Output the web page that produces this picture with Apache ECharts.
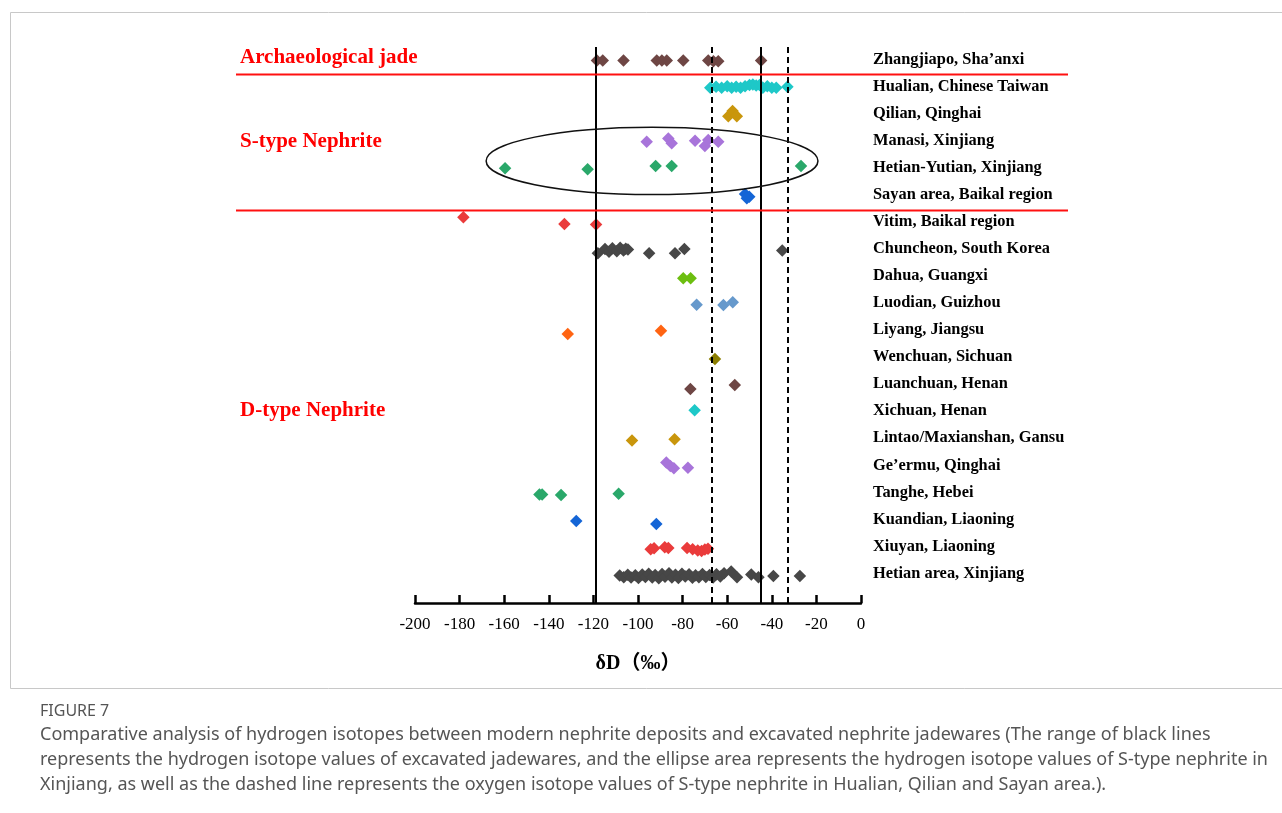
<!DOCTYPE html>
<html>
<head>
<meta charset="utf-8">
<script src="https://cdn.jsdelivr.net/npm/echarts@6/dist/echarts.min.js"></script>
<style>
  html, body { margin: 0; padding: 0; background: #ffffff; }
  #chart { width: 1282px; height: 813px; }
</style>
</head>
<body>
<div id="chart"></div>
<script>
// Localities, top to bottom
const localities = [
  'Zhangjiapo, Sha\u2019anxi',
  'Hualian, Chinese Taiwan',
  'Qilian, Qinghai',
  'Manasi, Xinjiang',
  'Hetian-Yutian, Xinjiang',
  'Sayan area, Baikal region',
  'Vitim, Baikal region',
  'Chuncheon, South Korea',
  'Dahua, Guangxi',
  'Luodian, Guizhou',
  'Liyang, Jiangsu',
  'Wenchuan, Sichuan',
  'Luanchuan, Henan',
  'Xichuan, Henan',
  'Lintao/Maxianshan, Gansu',
  'Ge\u2019ermu, Qinghai',
  'Tanghe, Hebei',
  'Kuandian, Liaoning',
  'Xiuyan, Liaoning',
  'Hetian area, Xinjiang'
];

const localityColors = [
  '#6e4644', '#1ec8c8', '#c9960c', '#a874da', '#2aa86a',
  '#1465d6', '#ea3b3b', '#474747', '#6cbe10', '#6699cc',
  '#ff6412', '#8b7e00', '#6e4644', '#1ec8c8', '#c9960c',
  '#a874da', '#2aa86a', '#1465d6', '#ea3b3b', '#474747'
];

// δD values (‰); second number is a small vertical jitter within the row
const zhangjiapo = [[-118.4, 0], [-115.8, 0], [-106.5, 0], [-91.6, 0], [-89.3, 0], [-87.1, 0], [-79.7, 0], [-68.5, 0], [-66.2, 0.03], [-64.0, 0.03], [-44.8, 0]];
const hualian = [[-67.6, 0], [-65.0, -0.03], [-62.5, 0], [-60.0, -0.05], [-58.0, 0], [-56.0, -0.03], [-54.0, 0], [-52.0, -0.05], [-50.0, -0.1], [-48.5, -0.12], [-47.0, -0.08], [-45.5, -0.1], [-44.0, 0], [-42.0, -0.05], [-40.0, 0], [-38.0, 0], [-33.0, -0.03]];
const qilian = [[-59.5, 0.05], [-57.6, -0.14], [-55.7, 0.05]];
const manasi = [[-96.1, -0.01], [-86.4, -0.13], [-84.9, 0.05], [-74.4, -0.04], [-70.0, 0.15], [-68.5, -0.07], [-64.0, -0.01]];
const hetianYutian = [[-159.6, -0.03], [-122.6, 0.01], [-92.1, -0.11], [-84.9, -0.11], [-26.9, -0.11]];
const sayan = [[-52.0, -0.08], [-50.1, 0.02], [-51.2, 0.08]];
const vitim = [[-178.3, -0.22], [-133.0, 0.03], [-118.8, 0.04]];
const chuncheon = [[-118.0, 0.1], [-114.8, -0.05], [-113.0, 0.05], [-111.5, -0.08], [-109.5, 0.03], [-108.0, -0.1], [-106.5, 0], [-105.5, -0.06], [-104.5, -0.03], [-95.0, 0.1], [-83.4, 0.1], [-79.2, -0.05], [-35.3, 0]];
const dahua = [[-79.7, 0.03], [-76.4, 0.03]];
const luodian = [[-73.7, 0], [-61.7, 0.01], [-57.5, -0.09]];
const liyang = [[-131.5, 0.08], [-89.7, -0.04]];
const wenchuan = [[-65.5, 0]];
const luanchuan = [[-76.5, 0.11], [-56.6, -0.04]];
const xichuan = [[-74.6, -0.11]];
const lintao = [[-102.7, 0.01], [-83.6, -0.04]];
const geermu = [[-87.3, -0.18], [-85.5, -0.05], [-83.9, 0.03], [-77.6, 0.01]];
const tanghe = [[-144.2, 0], [-143.0, 0], [-134.5, 0.02], [-108.7, -0.03]];
const kuandian = [[-127.7, -0.02], [-91.8, 0.09]];
const xiuyan = [[-94.3, 0.02], [-92.8, -0.02], [-88.0, -0.06], [-86.4, -0.03], [-78.0, -0.03], [-75.5, 0.02], [-73.2, 0.06], [-71.5, 0.08], [-70.0, 0.03], [-68.6, 0]];
const hetianArea = [[-108.2, -0.01], [-106.4, 0.05], [-104.6, -0.04], [-103.1, 0.06], [-101.2, -0.02], [-99.8, 0.08], [-98.1, -0.05], [-96.7, 0.04], [-95.2, -0.08], [-93.6, 0.06], [-92.3, -0.03], [-90.7, 0.09], [-89.2, -0.07], [-87.9, 0.03], [-86.1, -0.1], [-84.8, 0.06], [-83.2, -0.04], [-81.9, 0.08], [-80.3, -0.08], [-78.8, 0.02], [-77.1, -0.06], [-75.6, 0.07], [-74.2, -0.02], [-72.7, 0.05], [-71.1, -0.07], [-69.6, 0.04], [-67.9, -0.03], [-66.3, 0.06], [-64.8, -0.06], [-63.1, 0.02], [-61.4, -0.1], [-58.2, -0.16], [-55.6, 0.05], [-49.2, -0.05], [-46.0, 0.05], [-39.3, 0.0], [-27.4, 0.0]];

const localityData = [
  zhangjiapo, hualian, qilian, manasi, hetianYutian, sayan, vitim, chuncheon,
  dahua, luodian, liyang, wenchuan, luanchuan, xichuan, lintao, geermu,
  tanghe, kuandian, xiuyan, hetianArea
];

// Reference lines: excavated jade range (solid) and S-type range (dashed)
const excavatedRange = [-119, -45];
const sTypeRange = [-67, -33];

// Ellipse around the Xinjiang S-type samples: centre and half-axes in data units
const xinjiangEllipse = { centre: [-93.7, 3.7], halfWidth: 74.4, halfHeight: 1.24 };

// Group headings, placed against the row scale
const groupLabels = [
  { text: 'Archaeological jade', row: -0.1 },
  { text: 'S-type Nephrite', row: 3.0 },
  { text: 'D-type Nephrite', row: 12.9 }
];
const groupBoundaries = [0.5, 5.5];

const SERIF = '"Liberation Serif", "Times New Roman", serif';
const chart = echarts.init(document.getElementById('chart'), null, { renderer: 'canvas' });

const series = localityData.map((pts, i) => ({
  type: 'scatter',
  name: localities[i],
  yAxisIndex: 0,
  symbol: 'diamond',
  symbolSize: 12.5,
  itemStyle: { color: localityColors[i], opacity: 1 },
  data: pts.map(p => [p[0], i + p[1]]),
  silent: true,
  z: 2
}));

const solid = { color: '#000', width: 2, type: 'solid' };
const dashed = { color: '#000', width: 2, type: [6, 4] };
series.push({
  type: 'scatter',
  name: 'ranges',
  data: [],
  z: 10,
  markLine: {
    silent: true,
    symbol: 'none',
    label: { show: false },
    animation: false,
    data: [
      { xAxis: excavatedRange[0], lineStyle: solid },
      { xAxis: excavatedRange[1], lineStyle: solid },
      { xAxis: sTypeRange[0], lineStyle: dashed },
      { xAxis: sTypeRange[1], lineStyle: dashed }
    ]
  }
});

chart.setOption({
  animation: false,
  backgroundColor: '#ffffff',
  grid: { left: 415, right: 421, top: 47, bottom: 210, containLabel: false },
  xAxis: {
    type: 'value',
    min: -200,
    max: 0,
    interval: 20,
    axisLine: { show: true, onZero: false, lineStyle: { color: '#000', width: 2.5 } },
    axisTick: { show: true, inside: true, length: 8, lineStyle: { color: '#000', width: 2.5 } },
    axisLabel: { color: '#000', fontFamily: SERIF, fontSize: 17, margin: 13 },
    splitLine: { show: false },
    name: '\u03b4D\uff08\u2030\uff09',
    nameLocation: 'middle',
    nameGap: 51,
    nameTextStyle: {
      color: '#000', fontWeight: 'bold', fontSize: 20,
      fontFamily: '"Liberation Serif", "Noto Sans CJK SC", serif'
    }
  },
  yAxis: [
    {
      type: 'value', inverse: true, min: -0.5, max: 20, show: false,
      splitLine: { show: false }
    },
    {
      type: 'value', inverse: true, min: -0.46, max: 20.09, position: 'right',
      axisLine: { show: false }, axisTick: { show: false }, splitLine: { show: false },
      axisLabel: {
        customValues: localities.map((_, i) => i),
        formatter: v => localities[Math.round(v)] || '',
        margin: 12,
        color: '#000',
        fontFamily: SERIF,
        fontWeight: 'bold',
        fontSize: 16.4
      }
    }
  ],
  series
});

// Decorations positioned through the chart's own coordinate system
function px(x, y) { return chart.convertToPixel({ xAxisIndex: 0, yAxisIndex: 0 }, [x, y]); }

const graphics = [];
// frame around the figure
graphics.push({
  type: 'rect', silent: true,
  shape: { x: 10.5, y: 12.5, width: 1290, height: 676 },
  style: { fill: 'none', stroke: '#c8c8c8', lineWidth: 1 }
});
groupBoundaries.forEach(b => {
  const y = Math.round(px(0, b)[1]) + 0.5;
  graphics.push({
    type: 'line', silent: true, z: 20,
    shape: { x1: 236, y1: y, x2: 1068, y2: y },
    style: { stroke: '#ff1010', lineWidth: 2 }
  });
});
groupLabels.forEach(g => {
  const y = px(0, g.row)[1];
  graphics.push({
    type: 'text', silent: true, z: 20,
    x: 240, y: y,
    style: {
      text: g.text, fill: '#ff0000', font: 'bold 21px ' + SERIF,
      textAlign: 'left', textVerticalAlign: 'middle'
    }
  });
});
{
  const c = px(xinjiangEllipse.centre[0], xinjiangEllipse.centre[1]);
  const e = px(xinjiangEllipse.centre[0] + xinjiangEllipse.halfWidth,
               xinjiangEllipse.centre[1] + xinjiangEllipse.halfHeight);
  graphics.push({
    type: 'ellipse', silent: true, z: 20,
    shape: { cx: c[0], cy: c[1], rx: Math.abs(e[0] - c[0]), ry: Math.abs(e[1] - c[1]) },
    style: { fill: 'none', stroke: '#111', lineWidth: 1.5 }
  });
}

// Caption
const CAP = '"Noto Sans", "Open Sans", sans-serif';
const captionLines = [
  'Comparative analysis of hydrogen isotopes between modern nephrite deposits and excavated nephrite jadewares (The range of black lines',
  'represents the hydrogen isotope values of excavated jadewares, and the ellipse area represents the hydrogen isotope values of S-type nephrite in',
  'Xinjiang, as well as the dashed line represents the oxygen isotope values of S-type nephrite in Hualian, Qilian and Sayan area.).'
];
graphics.push({
  type: 'text', silent: true, x: 40, y: 711,
  style: { text: 'FIGURE 7', fill: '#555', font: '16px ' + CAP, textVerticalAlign: 'middle' }
});
captionLines.forEach((t, i) => {
  graphics.push({
    type: 'text', silent: true, x: 40, y: 735 + i * 25,
    style: { text: t, fill: '#555', font: '18px ' + CAP, textVerticalAlign: 'middle' }
  });
});

chart.setOption({ graphic: graphics });
</script>
</body>
</html>
